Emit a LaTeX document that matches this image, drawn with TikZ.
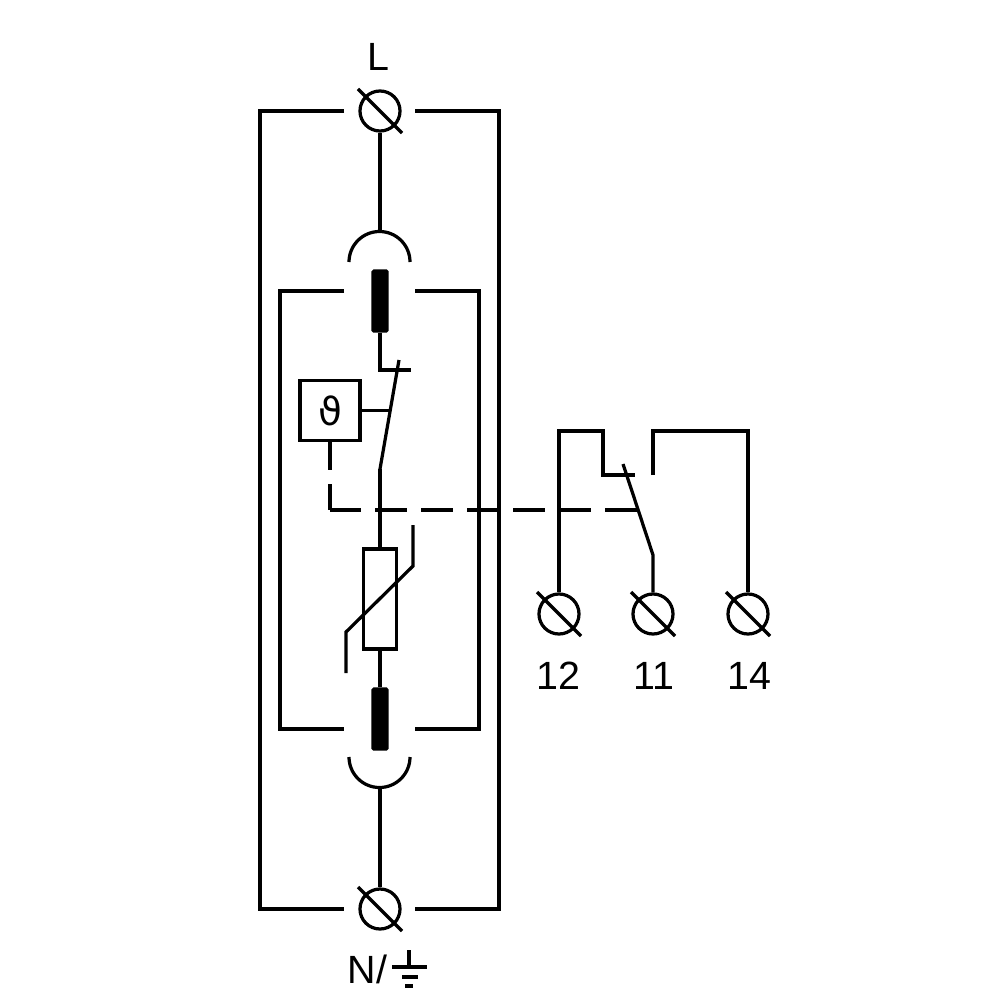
\documentclass[tikz,border=0pt]{standalone}
\usepackage{amsmath}
\usepackage{fontspec}
\setmainfont{Liberation Sans}
\newfontfamily\thetafont{DejaVu Sans}
\usepackage{tikz}
\usetikzlibrary{positioning}

\begin{document}
\begin{tikzpicture}[x=0.01cm, y=-0.01cm, line width=0.92pt,
		term/.style={draw, circle, minimum size=0.4cm, inner sep=0pt},
		block/.style={draw, fill=black, rounded corners=0.3pt, minimum width=0.14cm, minimum height=0.6cm, inner sep=0pt},
		plain box/.style={draw, inner sep=0pt},
		lbl/.style={inner sep=0pt, font=\fontsize{11.2}{13}\selectfont}]
	\useasboundingbox (0,0) rectangle (1000,1000);
	% terminals
	\node[term] (tl) at (380,111) {};
	\node[term] (tn) at (380,909) {};
	\node[term] (t12) at (559,614) {};
	\node[term] (t11) at (653,614) {};
	\node[term] (t14) at (748,614) {};
	\foreach \t in {tl,tn,t12,t11,t14}
		\draw[shorten <=-2.7pt, shorten >=-2.7pt] (\t.135) -- (\t.-45);
	\node[lbl] (ll) at (378,57) {L};
	\node[lbl, anchor=base] (l12) at (558,689) {12};
	\node[lbl, anchor=base] (l11) at (654,689) {11};
	\node[lbl, anchor=base] (l14) at (749,689) {14};
	\node[lbl, anchor=base west] (ln) at (346,983) {N/};
	% earth sign
	\coordinate (ea) at (409,950);
	\coordinate (eb) at (409,967);
	\draw (ea) -- (eb);
	\draw (392,967) -- (427,967);
	\draw (402,977) -- (418,977);
	\draw[line width=1.1pt] (405,986) -- (413,986);
	% outer box
	\coordinate (ao) at (344,111);
	\coordinate (bo) at (415,111);
	\coordinate (co) at (344,909);
	\coordinate (do) at (415,909);
	\draw (ao) -- (260,111) -- (260,909) -- (co);
	\draw (bo) -- (499,111) -- (499,909) -- (do);
	% inner box
	\coordinate (ai) at (344,291);
	\coordinate (bi) at (415,291);
	\coordinate (ci) at (344,729);
	\coordinate (di) at (415,729);
	\draw (ai) -- (280,291) -- (280,729) -- (ci);
	\draw (bi) -- (479,291) -- (479,729) -- (di);
	% plug contacts
	\coordinate (au) at (380,231);
	\coordinate (ad) at (380,788);
	\draw (349,262) arc[start angle=180, end angle=360, radius=30.5];
	\draw (349,757) arc[start angle=180, end angle=0, radius=30.5];
	\draw (tl) -- (au);
	\draw (tn) -- (ad);
	\node[block] (bu) at (380,301) {};
	\node[block] (bd) at (380,719) {};
	% thermal switch
	\node[plain box, minimum size=0.6cm] (th) at (330,410.5) {};
	\node[inner sep=0pt, font=\thetafont\fontsize{11}{13}\selectfont] (thl) at (330,411) {ϑ};
	\coordinate (sa) at (399,360);
	\coordinate (sb) at (380,469);
	\coordinate (sc) at (411,370);
	\coordinate (sd) at (390.2,410.5);
	\draw (bu) |- (sc);
	\draw (sa) -- (sb);
	\draw (th) -- (sd);
	% varistor
	\node[plain box, minimum width=0.33cm, minimum height=1cm] (var) at (380,599) {};
	\draw (sb) -- (var);
	\draw (var) -- (bd);
	\coordinate (vl) at (346,673);
	\coordinate (vr) at (413,525);
	\draw (vl) -- (346,632) -- (413,566) -- (vr);
	% signal contact
	\coordinate (ca) at (623,464);
	\coordinate (cb) at (653,555);
	\coordinate (cc) at (635,475);
	\coordinate (cd) at (653,475);
	\coordinate (ce) at (637,510);
	\coordinate (cf) at (330,510);
	\draw (t12) -- (559,431) -- (603,431) -- (603,475) -- (cc);
	\draw (ca) -- (cb) -- (t11);
	\draw (cd) -- (653,431) -- (748,431) -- (t14);
	% mechanical link
	\draw[dash pattern=on 0.32cm off 0.14cm] (ce) -- (cf);
	\draw[dash pattern=on 0.28cm off 0.14cm] (th.south) -- (cf);
\end{tikzpicture}
\end{document}
